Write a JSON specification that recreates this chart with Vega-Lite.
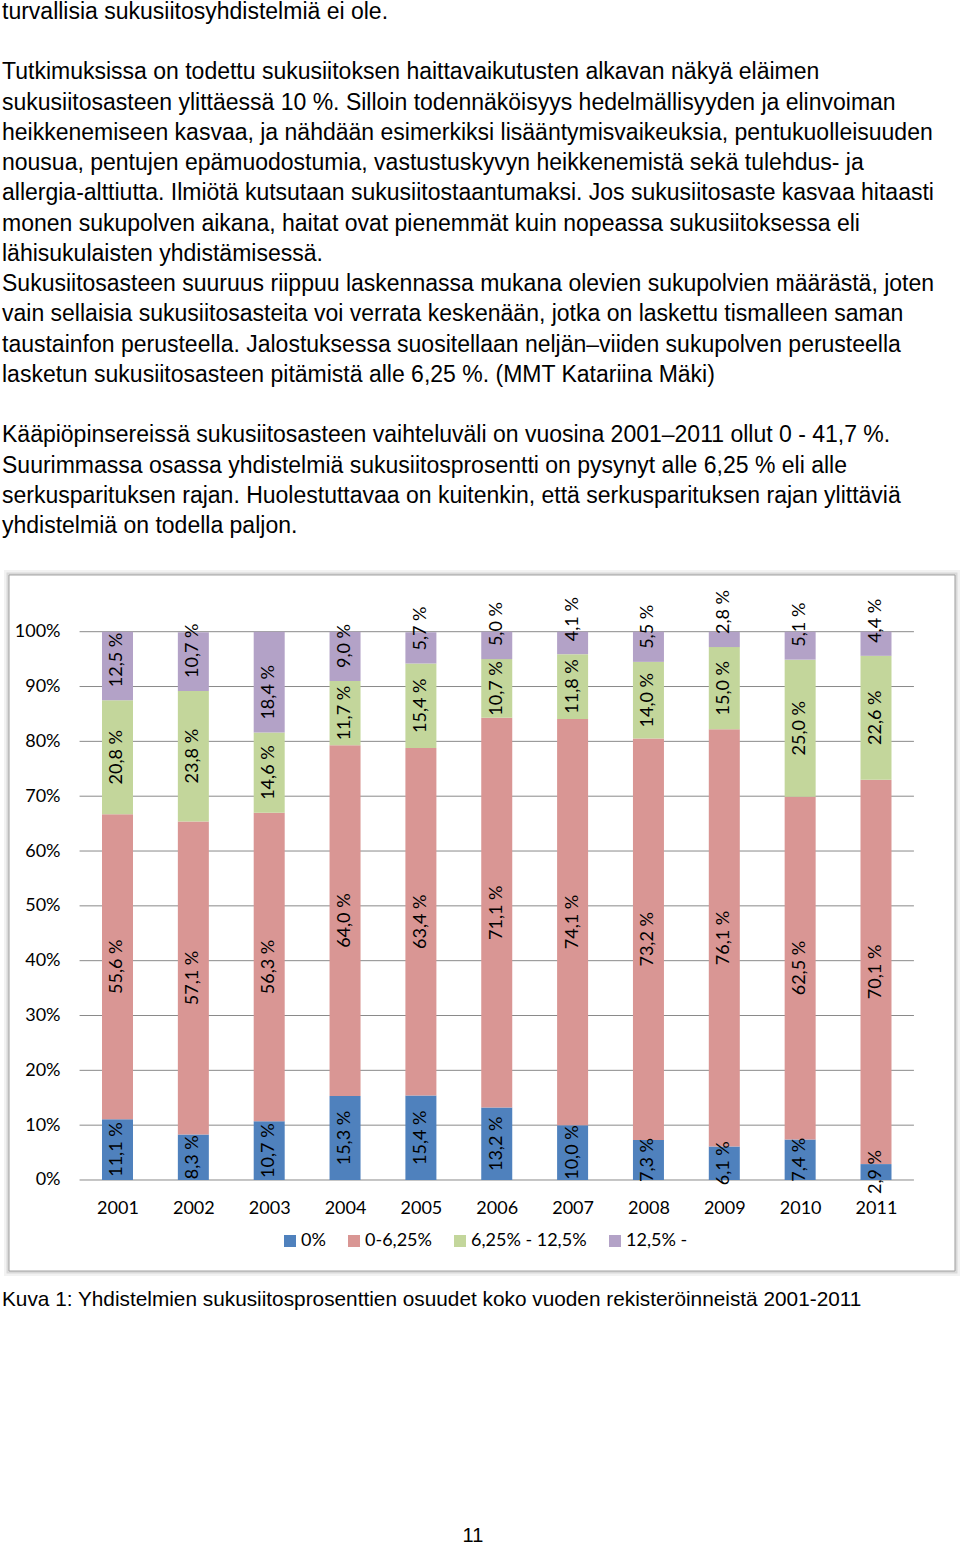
{
  "$schema": "https://vega.github.io/schema/vega-lite/v6.json",
  "padding": 0,
  "spacing": 0,
  "bounds": "flush",
  "background": "white",
  "config": {
    "view": {"stroke": null},
    "locale": {"number": {"decimal": ",", "thousands": " ", "grouping": [3], "currency": ["", " €"], "percent": " %"}}
  },
  "datasets": {
    "bars": [
      {"year": 2001, "series": "0%", "k": 0, "pct": 0.111},
      {"year": 2001, "series": "0-6,25%", "k": 1, "pct": 0.556},
      {"year": 2001, "series": "6,25% - 12,5%", "k": 2, "pct": 0.208},
      {"year": 2001, "series": "12,5% -", "k": 3, "pct": 0.125},
      {"year": 2002, "series": "0%", "k": 0, "pct": 0.083},
      {"year": 2002, "series": "0-6,25%", "k": 1, "pct": 0.571},
      {"year": 2002, "series": "6,25% - 12,5%", "k": 2, "pct": 0.238},
      {"year": 2002, "series": "12,5% -", "k": 3, "pct": 0.107},
      {"year": 2003, "series": "0%", "k": 0, "pct": 0.107},
      {"year": 2003, "series": "0-6,25%", "k": 1, "pct": 0.563},
      {"year": 2003, "series": "6,25% - 12,5%", "k": 2, "pct": 0.146},
      {"year": 2003, "series": "12,5% -", "k": 3, "pct": 0.184},
      {"year": 2004, "series": "0%", "k": 0, "pct": 0.153},
      {"year": 2004, "series": "0-6,25%", "k": 1, "pct": 0.640},
      {"year": 2004, "series": "6,25% - 12,5%", "k": 2, "pct": 0.117},
      {"year": 2004, "series": "12,5% -", "k": 3, "pct": 0.090},
      {"year": 2005, "series": "0%", "k": 0, "pct": 0.154},
      {"year": 2005, "series": "0-6,25%", "k": 1, "pct": 0.634},
      {"year": 2005, "series": "6,25% - 12,5%", "k": 2, "pct": 0.154},
      {"year": 2005, "series": "12,5% -", "k": 3, "pct": 0.057},
      {"year": 2006, "series": "0%", "k": 0, "pct": 0.132},
      {"year": 2006, "series": "0-6,25%", "k": 1, "pct": 0.711},
      {"year": 2006, "series": "6,25% - 12,5%", "k": 2, "pct": 0.107},
      {"year": 2006, "series": "12,5% -", "k": 3, "pct": 0.050},
      {"year": 2007, "series": "0%", "k": 0, "pct": 0.100},
      {"year": 2007, "series": "0-6,25%", "k": 1, "pct": 0.741},
      {"year": 2007, "series": "6,25% - 12,5%", "k": 2, "pct": 0.118},
      {"year": 2007, "series": "12,5% -", "k": 3, "pct": 0.041},
      {"year": 2008, "series": "0%", "k": 0, "pct": 0.073},
      {"year": 2008, "series": "0-6,25%", "k": 1, "pct": 0.732},
      {"year": 2008, "series": "6,25% - 12,5%", "k": 2, "pct": 0.140},
      {"year": 2008, "series": "12,5% -", "k": 3, "pct": 0.055},
      {"year": 2009, "series": "0%", "k": 0, "pct": 0.061},
      {"year": 2009, "series": "0-6,25%", "k": 1, "pct": 0.761},
      {"year": 2009, "series": "6,25% - 12,5%", "k": 2, "pct": 0.150},
      {"year": 2009, "series": "12,5% -", "k": 3, "pct": 0.028},
      {"year": 2010, "series": "0%", "k": 0, "pct": 0.074},
      {"year": 2010, "series": "0-6,25%", "k": 1, "pct": 0.625},
      {"year": 2010, "series": "6,25% - 12,5%", "k": 2, "pct": 0.250},
      {"year": 2010, "series": "12,5% -", "k": 3, "pct": 0.051},
      {"year": 2011, "series": "0%", "k": 0, "pct": 0.029},
      {"year": 2011, "series": "0-6,25%", "k": 1, "pct": 0.701},
      {"year": 2011, "series": "6,25% - 12,5%", "k": 2, "pct": 0.226},
      {"year": 2011, "series": "12,5% -", "k": 3, "pct": 0.044}
    ],
    "grid": [
      {"g": 0}, {"g": 0.1}, {"g": 0.2}, {"g": 0.3}, {"g": 0.4}, {"g": 0.5},
      {"g": 0.6}, {"g": 0.7}, {"g": 0.8}, {"g": 0.9}, {"g": 1.0}
    ]
  },
  "vconcat": [
    {
      "width": 960,
      "height": 568,
      "data": {"values": [
        {"line": 0, "text": "turvallisia sukusiitosyhdistelmiä ei ole."},
        {"line": 2, "text": "Tutkimuksissa on todettu sukusiitoksen haittavaikutusten alkavan näkyä eläimen"},
        {"line": 3, "text": "sukusiitosasteen ylittäessä 10 %. Silloin todennäköisyys hedelmällisyyden ja elinvoiman"},
        {"line": 4, "text": "heikkenemiseen kasvaa, ja nähdään esimerkiksi lisääntymisvaikeuksia, pentukuolleisuuden"},
        {"line": 5, "text": "nousua, pentujen epämuodostumia, vastustuskyvyn heikkenemistä sekä tulehdus- ja"},
        {"line": 6, "text": "allergia-alttiutta. Ilmiötä kutsutaan sukusiitostaantumaksi. Jos sukusiitosaste kasvaa hitaasti"},
        {"line": 7, "text": "monen sukupolven aikana, haitat ovat pienemmät kuin nopeassa sukusiitoksessa eli"},
        {"line": 8, "text": "lähisukulaisten yhdistämisessä."},
        {"line": 9, "text": "Sukusiitosasteen suuruus riippuu laskennassa mukana olevien sukupolvien määrästä, joten"},
        {"line": 10, "text": "vain sellaisia sukusiitosasteita voi verrata keskenään, jotka on laskettu tismalleen saman"},
        {"line": 11, "text": "taustainfon perusteella. Jalostuksessa suositellaan neljän–viiden sukupolven perusteella"},
        {"line": 12, "text": "lasketun sukusiitosasteen pitämistä alle 6,25 %. (MMT Katariina Mäki)"},
        {"line": 14, "text": "Kääpiöpinsereissä sukusiitosasteen vaihteluväli on vuosina 2001–2011 ollut 0 - 41,7 %."},
        {"line": 15, "text": "Suurimmassa osassa yhdistelmiä sukusiitosprosentti on pysynyt alle 6,25 % eli alle"},
        {"line": 16, "text": "serkusparituksen rajan. Huolestuttavaa on kuitenkin, että serkusparituksen rajan ylittäviä"},
        {"line": 17, "text": "yhdistelmiä on todella paljon."}
      ]},
      "mark": {"type": "text", "align": "left", "baseline": "alphabetic", "font": "Liberation Sans", "fontSize": 23, "color": "#000000", "dx": 2},
      "encoding": {
        "x": {"datum": 0, "type": "quantitative", "scale": {"domain": [0, 1], "nice": false, "zero": false}, "axis": null},
        "y": {"field": "line", "type": "quantitative", "scale": {"domain": [-0.595, 18.188], "reverse": true, "nice": false, "zero": false}, "axis": null},
        "text": {"field": "text"}
      }
    },
    {
      "width": 960,
      "height": 710,
      "layer": [
        {
          "data": {"values": [{"frame": "box"}]},
          "mark": {"type": "rect", "fill": "#000000", "fillOpacity": 0, "stroke": "#000000", "strokeOpacity": 0.05, "strokeWidth": 10},
          "encoding": {
            "x": {"datum": 1999.5696, "type": "quantitative", "scale": {"domain": [1999.45089, 2012.10745], "nice": false, "zero": false, "padding": 0}},
            "x2": {"datum": 2012.0415},
            "y": {"datum": -0.16597, "type": "quantitative", "scale": {"domain": [-0.18056, 1.11435], "nice": false, "zero": false}},
            "y2": {"datum": 1.10341}
          }
        },
        {
          "data": {"values": [{"frame": "box"}]},
          "mark": {"type": "rect", "fill": "#000000", "fillOpacity": 0, "stroke": "#000000", "strokeOpacity": 0.1, "strokeWidth": 5},
          "encoding": {
            "x": {"datum": 1999.5696, "type": "quantitative", "scale": {"domain": [1999.45089, 2012.10745], "nice": false, "zero": false, "padding": 0}},
            "x2": {"datum": 2012.0415},
            "y": {"datum": -0.16597, "type": "quantitative", "scale": {"domain": [-0.18056, 1.11435], "nice": false, "zero": false}},
            "y2": {"datum": 1.10341}
          }
        },
        {
          "data": {"values": [{"frame": "box"}]},
          "mark": {"type": "rect", "fill": "#ffffff", "stroke": "#a0a0a0", "strokeWidth": 1},
          "encoding": {
            "x": {"datum": 1999.5696, "type": "quantitative", "scale": {"domain": [1999.45089, 2012.10745], "nice": false, "zero": false, "padding": 0}},
            "x2": {"datum": 2012.0415},
            "y": {"datum": -0.16597, "type": "quantitative", "scale": {"domain": [-0.18056, 1.11435], "nice": false, "zero": false}},
            "y2": {"datum": 1.10341}
          }
        },
        {
          "data": {"name": "grid"},
          "mark": {"type": "rule", "color": "#8a8a8a", "strokeWidth": 1},
          "encoding": {
            "x": {"datum": 2000.5, "type": "quantitative", "scale": {"domain": [1999.45089, 2012.10745], "nice": false, "zero": false, "padding": 0}},
            "x2": {"datum": 2011.5},
            "y": {"field": "g", "type": "quantitative", "scale": {"domain": [-0.18056, 1.11435], "nice": false, "zero": false}}
          }
        },
        {
          "data": {"name": "bars"},
          "transform": [
            {"stack": "pct", "groupby": ["year"], "sort": [{"field": "k", "order": "ascending"}], "as": ["v0", "v1"]}
          ],
          "mark": {"type": "bar", "size": 31, "orient": "vertical", "strokeWidth": 0},
          "encoding": {
            "x": {
              "field": "year", "type": "quantitative",
              "scale": {"domain": [1999.45089, 2012.10745], "nice": false, "zero": false, "padding": 0},
              "axis": {"orient": "bottom", "zindex": 2, "values": [2001, 2002, 2003, 2004, 2005, 2006, 2007, 2008, 2009, 2010, 2011], "format": "d", "ticks": false, "domain": false, "grid": false, "labelFont": "Lato", "labelFontSize": 18, "labelColor": "#000000", "labelPadding": 0, "offset": -66, "labelBaseline": "alphabetic", "labelFlush": false, "labelOverlap": false, "title": null}
            },
            "y": {
              "field": "v0", "type": "quantitative",
              "scale": {"domain": [-0.18056, 1.11435], "nice": false, "zero": false},
              "axis": {"orient": "left", "zindex": 2, "values": [0, 0.1, 0.2, 0.3, 0.4, 0.5, 0.6, 0.7, 0.8, 0.9, 1], "labelExpr": "round(datum.value*100) + '%'", "ticks": false, "domain": false, "grid": false, "labelFont": "Lato", "labelFontSize": 18, "labelColor": "#000000", "labelPadding": 0, "offset": -60, "labelBaseline": "middle", "labelAlign": "right", "labelFlush": false, "labelOverlap": false, "title": null}
            },
            "y2": {"field": "v1"},
            "color": {
              "field": "series", "type": "nominal",
              "scale": {"domain": ["0%", "0-6,25%", "6,25% - 12,5%", "12,5% -"], "range": ["#4f81bd", "#d99694", "#c3d69b", "#b3a2c7"]},
              "legend": {"orient": "none", "zindex": 2, "legendX": 281, "legendY": 1231, "direction": "horizontal", "title": null, "symbolType": "square", "symbolSize": 144, "symbolStrokeWidth": 0, "labelFont": "Lato", "labelFontSize": 18, "labelColor": "#000000", "columnPadding": 19, "labelOffset": 2, "padding": 0}
            }
          }
        },
        {
          "data": {"name": "bars"},
          "transform": [
            {"stack": "pct", "groupby": ["year"], "sort": [{"field": "k", "order": "ascending"}], "as": ["v0", "v1"]},
            {"filter": "datum.k < 3"},
            {"calculate": "(datum.v0 + datum.v1) / 2", "as": "mid"}
          ],
          "mark": {"type": "text", "angle": 270, "align": "center", "baseline": "middle", "font": "Lato", "fontSize": 18, "color": "#000000"},
          "encoding": {
            "x": {"field": "year", "type": "quantitative", "scale": {"domain": [1999.45089, 2012.10745], "nice": false, "zero": false, "padding": 0}},
            "y": {"field": "mid", "type": "quantitative", "scale": {"domain": [-0.18056, 1.11435], "nice": false, "zero": false}},
            "text": {"field": "pct", "type": "quantitative", "format": ".1%"}
          }
        },
        {
          "data": {"name": "bars"},
          "transform": [
            {"stack": "pct", "groupby": ["year"], "sort": [{"field": "k", "order": "ascending"}], "as": ["v0", "v1"]},
            {"filter": "datum.k == 3"}
          ],
          "mark": {"type": "text", "angle": 270, "align": "left", "baseline": "middle", "dx": 13, "font": "Lato", "fontSize": 18, "color": "#000000"},
          "encoding": {
            "x": {"field": "year", "type": "quantitative", "scale": {"domain": [1999.45089, 2012.10745], "nice": false, "zero": false, "padding": 0}},
            "y": {"field": "v0", "type": "quantitative", "scale": {"domain": [-0.18056, 1.11435], "nice": false, "zero": false}},
            "text": {"field": "pct", "type": "quantitative", "format": ".1%"}
          }
        }
      ]
    },
    {
      "width": 960,
      "height": 266,
      "layer": [
        {
          "data": {"values": [{"line": 0, "text": "Kuva 1: Yhdistelmien sukusiitosprosenttien osuudet koko vuoden rekisteröinneistä 2001-2011"}]},
          "mark": {"type": "text", "align": "left", "baseline": "alphabetic", "font": "Liberation Sans", "fontSize": 20.8, "color": "#000000", "dx": 2},
          "encoding": {
            "x": {"datum": 0, "type": "quantitative", "scale": {"domain": [0, 1], "nice": false, "zero": false}, "axis": null},
            "y": {"field": "line", "type": "quantitative", "scale": {"domain": [-0.9153, 8.1017], "reverse": true, "nice": false, "zero": false}, "axis": null},
            "text": {"field": "text"}
          }
        },
        {
          "data": {"values": [{"line": 8, "text": "11"}]},
          "mark": {"type": "text", "align": "center", "baseline": "alphabetic", "font": "Liberation Sans", "fontSize": 20, "color": "#000000"},
          "encoding": {
            "x": {"datum": 0.4927, "type": "quantitative", "scale": {"domain": [0, 1], "nice": false, "zero": false}, "axis": null},
            "y": {"field": "line", "type": "quantitative", "scale": {"domain": [-0.9153, 8.1017], "reverse": true, "nice": false, "zero": false}, "axis": null},
            "text": {"field": "text"}
          }
        }
      ]
    }
  ]
}
